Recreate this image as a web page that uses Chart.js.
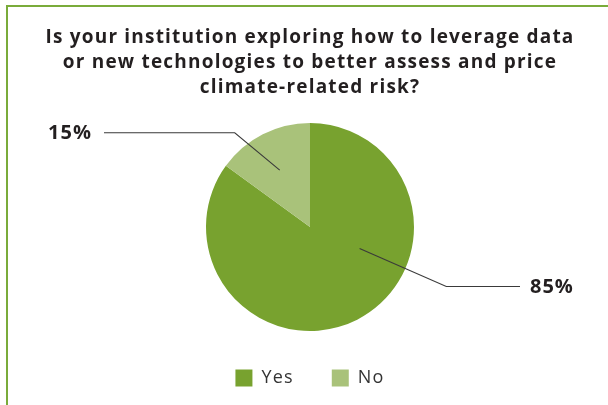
<!DOCTYPE html>
<html>
<head>
<meta charset="utf-8">
<script src="https://cdn.jsdelivr.net/npm/chart.js@4/dist/chart.umd.min.js"></script>
<style>
  html, body { margin: 0; padding: 0; background: #fff; }
  #wrap { position: relative; width: 608px; height: 405px; overflow: hidden; }
  #grafico { position: absolute; left: 0; top: 0; }
  #marco {
    position: absolute; left: 6px; top: 5px; right: -4px; bottom: -4px;
    border-left: 2px solid #7aab3a; border-top: 2px solid #7aab3a;
    pointer-events: none;
  }
</style>
</head>
<body>
<div id="wrap">
  <canvas id="grafico" width="608" height="405"></canvas>
  <div id="marco"></div>
</div>
<script>
// datos del grafico
var categorias = ["Yes", "No"];
var valores = [85, 15];
var colores = ["#78a22f", "#a9c27a"];
var titulo = [
    "Is your institution exploring how to leverage data",
    "or new technologies to better assess and price",
    "climate-related risk?"
];

// donde salen las lineas de cada etiqueta (angulos en grados, radios relativos)
var guias = [
    { angAncla: 23.5, radAncla: 0.52, angCodo: 23.6, radCodo: 1.43, finX: 210 },
    { angAncla: 242, radAncla: 0.62, angCodo: 231.4, radCodo: 1.16, finX: -206 }
];

// la fuente original es mas ancha, se abre un poco el espaciado
var espaciado = {
    id: "espaciado",
    beforeDraw: function (chart) {
        chart.ctx.letterSpacing = "1.2px";
    },
    beforeUpdate: function (chart) {
        chart.ctx.letterSpacing = "1.2px";
    }
};

var etiquetasPlugin = {
    id: "etiquetas",
    afterDatasetsDraw: function (chart) {
        var ctx = chart.ctx;
        var meta = chart.getDatasetMeta(0);
        meta.data.forEach(function (arco, i) {
            var g = guias[i];
            var r = arco.outerRadius;
            var a1 = g.angAncla * Math.PI / 180;
            var a2 = g.angCodo * Math.PI / 180;
            var x1 = arco.x + Math.cos(a1) * r * g.radAncla;
            var y1 = arco.y + Math.sin(a1) * r * g.radAncla;
            var x2 = arco.x + Math.cos(a2) * r * g.radCodo;
            var y2 = arco.y + Math.sin(a2) * r * g.radCodo;
            var x3 = arco.x + g.finX;
            ctx.save();
            ctx.strokeStyle = "#3a3a3a";
            ctx.lineWidth = 1.1;
            ctx.beginPath();
            ctx.moveTo(x1, y1);
            ctx.lineTo(x2, y2);
            ctx.lineTo(x3, y2);
            ctx.stroke();
            ctx.fillStyle = "#231f20";
            ctx.font = "bold 20px 'Open Sans'";
            ctx.letterSpacing = "1px";
            ctx.textBaseline = "middle";
            ctx.textAlign = g.finX > 0 ? "left" : "right";
            ctx.fillText(valores[i] + "%", x3 + (g.finX > 0 ? 10 : -12), y2 + 1);
            ctx.restore();
        });
    }
};

var contexto = document.getElementById("grafico").getContext("2d");
var graficoPie = new Chart(contexto, {
    type: "pie",
    data: {
        labels: categorias,
        datasets: [
            {
                data: valores,
                backgroundColor: colores,
                borderWidth: 0
            }
        ]
    },
    options: {
        responsive: false,
        animation: false,
        layout: {
            padding: { left: 12, right: 0, top: 0, bottom: 8 }
        },
        plugins: {
            title: {
                display: true,
                text: titulo,
                color: "#231f20",
                font: { family: "'Open Sans'", size: 19, weight: "bold", lineHeight: "25px" },
                padding: { top: 25, bottom: 23 }
            },
            legend: {
                position: "bottom",
                labels: {
                    boxWidth: 17,
                    boxHeight: 17,
                    padding: 38,
                    color: "#333",
                    font: { family: "'Open Sans'", size: 18 }
                }
            },
            tooltip: { enabled: false }
        }
    },
    plugins: [espaciado, etiquetasPlugin]
});
</script>
</body>
</html>
